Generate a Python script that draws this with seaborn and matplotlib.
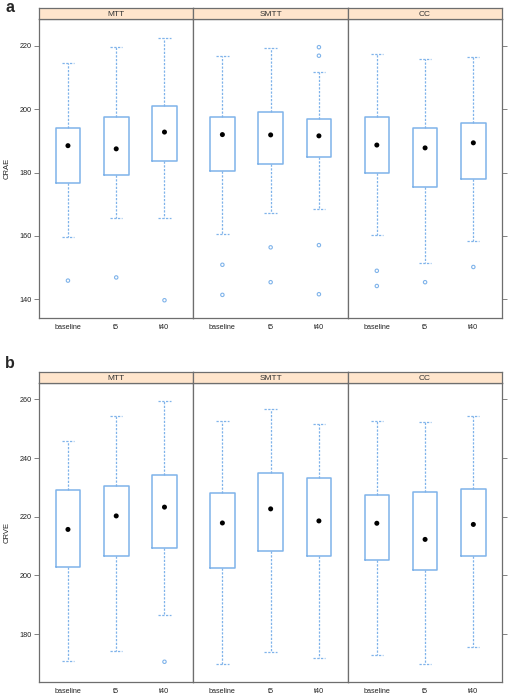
import numpy as np
import seaborn as sns
from matplotlib import pyplot as plt

groups = ['MTT', 'SMTT', 'CC']
times = ['baseline', 't5', 't40']

# panel a: CRAE, one list of 3 values per group (baseline, t5, t40)
crae_whishi = [[214.5, 219.6, 222.6], [216.7, 219.3, 211.8], [217.4, 215.9, 216.5]]
crae_q3 = [[194.2, 197.4, 201.1], [197.4, 199.1, 196.8], [197.4, 194.2, 195.7]]
crae_med = [[188.5, 187.5, 192.8], [192.0, 191.9, 191.6], [188.7, 187.8, 189.4]]
crae_q1 = [[176.8, 179.1, 183.6], [180.5, 182.7, 185.0], [180.0, 175.4, 178.1]]
crae_whislo = [[159.7, 165.7, 165.7], [160.5, 167.3, 168.6], [160.2, 151.5, 158.5]]
crae_fliers = [[[145.9], [146.9], [139.7]],
               [[150.9, 141.4], [156.4, 145.4], [219.6, 216.9, 157.1, 141.6]],
               [[149.0, 144.2], [145.4], [150.2]]]

# panel b: CRVE
crve_whishi = [[246.0, 254.4, 259.3], [252.7, 256.9, 251.5], [252.8, 252.2, 254.4]]
crve_q3 = [[229.0, 230.6, 234.4], [228.1, 235.0, 233.1], [227.3, 228.3, 229.5]]
crve_med = [[215.7, 220.3, 223.3], [217.9, 222.7, 218.6], [217.8, 212.3, 217.4]]
crve_q1 = [[202.9, 206.8, 209.2], [202.6, 208.2, 206.8], [205.4, 202.0, 206.7]]
crve_whislo = [[170.7, 174.2, 186.4], [169.8, 173.8, 171.9], [172.8, 169.9, 175.8]]
crve_fliers = [[[], [], [170.6]],
               [[], [], []],
               [[], [], []]]

BOX_COL = '#7fb3ea'
FRAME_COL = '#6e6e6e'
STRIP_COL = '#ffe5cc'

sns.set_style('white')
plt.rcParams['font.family'] = ['Liberation Sans', 'DejaVu Sans']

W, H = 511, 695
fig = plt.figure(figsize=(W / 100, H / 100), dpi=100)


def px_axes(x0, y0, x1, y1):
    # pixel box (top-left origin) -> figure axes
    return fig.add_axes([x0 / W, 1 - y1 / H, (x1 - x0) / W, (y1 - y0) / H])


def draw_panel(top_strip, top_plot, bottom, whishi, q3, med, q1, whislo, fliers,
               ylim, yticks, ylabel):
    left, right = 39, 502.3
    pw = (right - left) / 3
    for g, name in enumerate(groups):
        x0 = left + g * pw
        ax = px_axes(x0, top_plot, x0 + pw, bottom)
        strip = px_axes(x0, top_strip, x0 + pw, top_plot)
        strip.set_facecolor(STRIP_COL)
        strip.set_xticks([])
        strip.set_yticks([])
        strip.text(0.5, 0.45, name, ha='center', va='center', fontsize=6, color='#333333')
        for s in strip.spines.values():
            s.set_color(FRAME_COL)
            s.set_linewidth(0.9)

        stats = []
        for t in range(3):
            stats.append(dict(med=med[g][t], q1=q1[g][t], q3=q3[g][t],
                              whislo=whislo[g][t], whishi=whishi[g][t], fliers=[]))
        ax.bxp(stats, positions=[1, 2, 3], widths=0.51, showfliers=False,
               boxprops=dict(color=BOX_COL, linewidth=1.1),
               whiskerprops=dict(color=BOX_COL, linewidth=0.9, linestyle=(0, (1.8, 1.2))),
               capprops=dict(color=BOX_COL, linewidth=0.9, linestyle=(0, (1.8, 1.2))),
               medianprops=dict(visible=False))

        sns.scatterplot(x=[1, 2, 3], y=med[g], ax=ax, color='black', s=13,
                        edgecolor='none', zorder=5)
        fx = [t + 1 for t in range(3) for _ in fliers[g][t]]
        fy = [v for t in range(3) for v in fliers[g][t]]
        if fy:
            sns.scatterplot(x=fx, y=fy, ax=ax, facecolor='none', edgecolor=BOX_COL,
                            s=6, linewidth=0.8, zorder=4)

        ax.set_xlim(0.4, 3.6)
        ax.set_ylim(*ylim)
        ax.set_xticks([1, 2, 3])
        ax.set_xticklabels(times, fontsize=5.2, color='#222222')
        ax.tick_params(axis='x', length=0, pad=4)
        ax.set_yticks(yticks)
        if g == 0:
            ax.set_yticklabels([str(v) for v in yticks], fontsize=5.2, color='#222222')
            ax.tick_params(axis='y', length=3.5, width=0.6, color=FRAME_COL, pad=2,
                           left=True, right=False)
            ax.set_ylabel(ylabel, fontsize=5.5, labelpad=6, color='#222222')
        elif g == 2:
            ax.tick_params(axis='y', length=3.5, width=0.6, color=FRAME_COL,
                           left=False, right=True, labelleft=False)
        else:
            ax.tick_params(axis='y', left=False, right=False, labelleft=False)
        ax.set_xlabel('')
        for s in ax.spines.values():
            s.set_color(FRAME_COL)
            s.set_linewidth(0.9)


draw_panel(8.3, 19.3, 318.3, crae_whishi, crae_q3, crae_med, crae_q1, crae_whislo,
           crae_fliers, (134.0, 228.4), [140, 160, 180, 200, 220], 'CRAE')
draw_panel(372.3, 383.0, 682.3, crve_whishi, crve_q3, crve_med, crve_q1, crve_whislo,
           crve_fliers, (163.6, 265.6), [180, 200, 220, 240, 260], 'CRVE')

fig.text(5 / W, 1 - 0.5 / H, 'a', fontsize=11.5, fontweight='bold', va='top')
fig.text(5 / W, 1 - 368.3 / H, 'b', fontsize=11.5, fontweight='bold', va='baseline')

fig.savefig('out.png', dpi=100)
